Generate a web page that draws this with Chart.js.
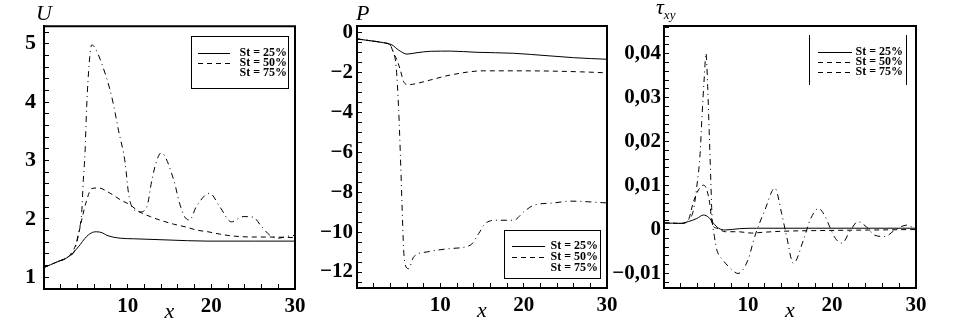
<!DOCTYPE html>
<html>
<head>
<meta charset="utf-8">
<script src="https://cdn.jsdelivr.net/npm/chart.js@4.4.1/dist/chart.umd.min.js"></script>
<style>
  html, body { margin: 0; background: #fff; }
  #wrap { position: relative; width: 953px; height: 323px; }
  #wrap canvas { position: absolute; left: 0; top: 0; }
</style>
</head>
<body>
<div id="wrap">
  <canvas id="chU" width="953" height="323"></canvas>
  <canvas id="chP" width="953" height="323"></canvas>
  <canvas id="chT" width="953" height="323"></canvas>
</div>
<script>
// series labels
const stLabels = ["St = 25%", "St = 50%", "St = 75%"];

// x ticks (shared)
const xTickValues = [10, 20, 30];
const xTickLabels = ["10", "20", "30"];

// ---- U panel ----
const u25x = [0, 1.5, 3.1, 4.1, 5.1, 5.8, 6.3, 7.0, 7.5, 9.1, 10.7, 14.7, 19.6, 25.2, 30];
const u25y = [1.17, 1.26, 1.37, 1.52, 1.70, 1.77, 1.78, 1.76, 1.72, 1.67, 1.66, 1.64, 1.62, 1.62, 1.62];
const u50x = [0, 1.5, 3.1, 3.9, 4.5, 5.1, 5.7, 6.5, 7.9, 9.1, 10.3, 11.3, 12.7, 14.3, 15.5, 17, 18.2, 19.6, 21, 22.4, 25, 27, 30];
const u50y = [1.17, 1.26, 1.38, 1.6, 1.98, 2.32, 2.52, 2.53, 2.44, 2.33, 2.24, 2.13, 2.04, 1.96, 1.91, 1.86, 1.81, 1.78, 1.74, 1.71, 1.69, 1.69, 1.68];
const u75x = [0, 1.5, 3.1, 3.7, 4.1, 4.5, 4.7, 4.9, 5.1, 5.4, 5.7, 6.0, 6.9, 8.1, 8.9, 9.7, 10.1, 10.5, 11.5, 12.3, 12.9, 13.5, 14.0, 15.5, 16.2, 16.8, 17.4, 18.2, 19.8, 21.0, 22.4, 23.8, 25.0, 26.0, 27.0, 28.0, 29.0, 30];
const u75y = [1.17, 1.26, 1.37, 1.47, 1.75, 2.1, 2.67, 3.12, 3.92, 4.66, 4.98, 4.95, 4.66, 4.09, 3.52, 2.96, 2.44, 2.21, 2.12, 2.21, 2.67, 3.01, 3.13, 2.67, 2.27, 2.04, 1.98, 2.21, 2.44, 2.21, 1.95, 2.04, 2.03, 1.87, 1.72, 1.67, 1.70, 1.72];
const uTickValues = [1, 2, 3, 4, 5];
const uTickLabels = ["1", "2", "3", "4", "5"];

// ---- P panel ----
const p25x = [0, 1.6, 3.2, 4.2, 5.0, 6.0, 7.2, 8.8, 11.2, 14.4, 18.8, 22.8, 26, 30];
const p25y = [-0.3, -0.39, -0.49, -0.6, -0.86, -1.06, -0.99, -0.92, -0.91, -0.97, -1.02, -1.14, -1.24, -1.32];
const p50x = [0, 1.6, 3.2, 4.0, 4.4, 4.8, 5.2, 5.6, 6.2, 7.2, 8.8, 11.2, 15.2, 18.8, 22.8, 26.8, 30];
const p50y = [-0.3, -0.39, -0.49, -0.62, -1.02, -1.36, -1.86, -2.45, -2.6, -2.53, -2.36, -2.11, -1.9, -1.9, -1.91, -1.95, -2.0];
const p75x = [0, 1.6, 3.2, 4.0, 4.4, 4.7, 5.0, 5.2, 5.4, 5.6, 5.9, 6.2, 6.8, 8.4, 11.2, 13.6, 14.6, 15.4, 16.8, 18.8, 20, 21.2, 23.6, 25.6, 30];
const p75y = [-0.3, -0.39, -0.49, -0.62, -1.0, -1.69, -3.87, -6.05, -8.56, -10.9, -11.75, -11.83, -11.24, -10.99, -10.82, -10.65, -10.07, -9.56, -9.4, -9.4, -8.98, -8.65, -8.53, -8.44, -8.53];
const pTickValues = [-12, -10, -8, -6, -4, -2, 0];
const pTickLabels = ["\u221212", "\u221210", "\u22128", "\u22126", "\u22124", "\u22122", "0"];

// ---- tau panel ----
const t25x = [0, 2.1, 2.9, 3.9, 4.7, 5.3, 5.9, 6.5, 7.3, 9, 11, 30];
const t25y = [0.0015, 0.0014, 0.0018, 0.0025, 0.0033, 0.0028, 0.0014, 0.0003, -0.0001, 0.0002, 0.0003, 0.0003];
const t50x = [0, 2.1, 2.9, 3.5, 4.1, 4.7, 5.1, 5.5, 5.7, 6.3, 7.3, 8.8, 10.4, 12, 14, 16, 20, 25, 30];
const t50y = [0.0015, 0.0014, 0.0022, 0.0063, 0.009, 0.0101, 0.009, 0.0052, 0.0014, 0.0003, -0.0005, -0.0005, -0.0008, -0.0006, -0.0004, -0.0003, -0.0002, -0.0001, 0];
const t75x = [0, 2.1, 2.9, 3.5, 3.9, 4.3, 4.5, 4.8, 5.0, 5.2, 5.4, 5.6, 5.7, 6.0, 6.3, 7.0, 8.0, 8.8, 10, 10.8, 12, 13.2, 14, 14.6, 15.4, 16.6, 17.4, 18.4, 19.2, 19.8, 20.4, 21.2, 22.1, 23.1, 24.1, 25.1, 26.3, 27.5, 28.9, 30];
const t75y = [0.0015, 0.0014, 0.0022, 0.0044, 0.0097, 0.0173, 0.0249, 0.0348, 0.0401, 0.0325, 0.0211, 0.0097, 0.0037, -0.0016, -0.0047, -0.0069, -0.009, -0.0100, -0.0069, -0.0016, 0.0044, 0.0094, 0.0037, -0.0016, -0.0077, -0.0024, 0.0022, 0.0048, 0.0029, 0.0003, -0.002, -0.0031, -0.0005, 0.0018, 0.0006, -0.0013, -0.0016, -0.0001, 0.001, 0.0];
const tTickValues = [-0.01, 0, 0.01, 0.02, 0.03, 0.04];
const tTickLabels = ["\u22120,01", "0", "0,01", "0,02", "0,03", "0,04"];

const dashes = [[], [5, 4], [6, 4, 1, 4]];
const SERIF = "'Liberation Serif', 'DejaVu Serif', serif";

function pts(xs, ys) {
  return xs.map((x, i) => ({ x: x, y: ys[i] }));
}

function minorTicks(min, max, step) {
  const out = [];
  const n0 = Math.ceil(min / step - 1e-9);
  for (let n = n0; n * step <= max + 1e-9; n++) out.push({ value: +(n * step).toFixed(6) });
  return out;
}

function labelFor(values, labels) {
  return v => {
    const i = values.findIndex(m => Math.abs(m - v) < 1e-7);
    return i < 0 ? "" : labels[i];
  };
}

// border round the plot area (top and right sides)
const framePlugin = {
  id: "frame",
  afterDraw(chart) {
    const a = chart.chartArea, ctx = chart.ctx;
    ctx.save();
    ctx.strokeStyle = "#000";
    ctx.lineWidth = 2;
    ctx.beginPath();
    ctx.moveTo(a.left, a.top);
    ctx.lineTo(a.right, a.top);
    ctx.lineTo(a.right, a.bottom);
    ctx.stroke();
    ctx.restore();
  }
};

// legend box drawn inside the plot
const boxLegend = {
  id: "boxLegend",
  afterDraw(chart, args, o) {
    const ctx = chart.ctx;
    ctx.save();
    ctx.strokeStyle = "#000";
    ctx.lineWidth = 1;
    if (o.sidesOnly) {
      ctx.beginPath();
      ctx.moveTo(o.box[0] + 0.5, o.box[1]); ctx.lineTo(o.box[0] + 0.5, o.box[3]);
      ctx.moveTo(o.box[2] + 0.5, o.box[1]); ctx.lineTo(o.box[2] + 0.5, o.box[3]);
      ctx.stroke();
    } else {
      ctx.strokeRect(o.box[0] + 0.5, o.box[1] + 0.5, o.box[2] - o.box[0], o.box[3] - o.box[1]);
    }
    ctx.font = "bold 12px " + SERIF;
    ctx.fillStyle = "#000";
    ctx.textAlign = "right";
    ctx.textBaseline = "middle";
    chart.data.datasets.forEach((ds, i) => {
      const y = o.rows[i];
      if (o.dash[i]) {
        ctx.setLineDash(o.dash[i]);
        ctx.beginPath();
        ctx.moveTo(o.line[0], y + 0.5);
        ctx.lineTo(o.line[1], y + 0.5);
        ctx.stroke();
        ctx.setLineDash([]);
      }
      ctx.fillText(ds.label, o.textRight, y);
    });
    ctx.restore();
  }
};

// variable name at the top of the y axis
const varTitle = {
  id: "varTitle",
  afterDraw(chart, args, o) {
    const ctx = chart.ctx;
    ctx.save();
    ctx.fillStyle = "#000";
    ctx.textBaseline = "alphabetic";
    ctx.textAlign = "left";
    ctx.font = "italic 22px " + SERIF;
    ctx.fillText(o.text, o.x, o.y);
    if (o.sub) {
      const w = ctx.measureText(o.text).width;
      ctx.font = "italic 13px " + SERIF;
      ctx.fillText(o.sub, o.x + w, o.y + 5);
    }
    ctx.restore();
  }
};

function makePanel(id, p) {
  const YW = p.yw, XH = 34;
  new Chart(document.getElementById(id), {
    type: "line",
    data: {
      datasets: p.series.map((s, i) => ({
        label: stLabels[i],
        data: pts(s[0], s[1]),
        borderColor: "#000",
        borderWidth: 1,
        borderDash: dashes[i],
        pointRadius: 0,
        fill: false,
        cubicInterpolationMode: "monotone"
      }))
    },
    options: {
      responsive: false,
      animation: false,
      events: [],
      layout: {
        padding: { left: p.area[0] - YW, top: p.area[1], right: 953 - p.area[2], bottom: 323 - p.area[3] - XH }
      },
      plugins: {
        legend: { display: false },
        tooltip: { enabled: false },
        boxLegend: p.legend,
        varTitle: p.title
      },
      scales: {
        x: {
          type: "linear",
          min: 0, max: 30,
          afterFit: s => { s.height = XH; },
          afterBuildTicks: s => { s.ticks = minorTicks(0, 30, 2); },
          ticks: {
            autoSkip: false, maxRotation: 0, padding: 10, color: "#000",
            font: { family: SERIF, size: 21, weight: "bold" },
            callback: labelFor(xTickValues, xTickLabels)
          },
          grid: { drawOnChartArea: false, tickLength: -5, color: "#000", tickColor: "#000" },
          border: { color: "#000", width: 2 },
          title: { display: true, text: "x", color: "#000", padding: 0, font: { family: SERIF, size: 22, style: "italic", lineHeight: 1 } }
        },
        y: {
          type: "linear",
          min: p.yMin, max: p.yMax,
          afterFit: s => { s.width = YW; },
          afterBuildTicks: s => { s.ticks = minorTicks(p.yMin, p.yMax, p.yStep); },
          ticks: {
            autoSkip: false, padding: p.yPad, color: "#000",
            font: { family: SERIF, size: p.yFont, weight: "bold" },
            callback: labelFor(p.yTicks, p.yLabels)
          },
          grid: { drawOnChartArea: false, tickLength: -5, color: "#000", tickColor: "#000" },
          border: { color: "#000", width: 2 }
        }
      }
    },
    plugins: [framePlugin, boxLegend, varTitle]
  });
}

makePanel("chU", {
  area: [44, 26, 295, 289], yw: 40,
  series: [[u25x, u25y], [u50x, u50y], [u75x, u75y]],
  yMin: 0.8, yMax: 5.3, yStep: 0.2, yTicks: uTickValues, yLabels: uTickLabels, yPad: 13, yFont: 22,
  legend: { box: [191, 36, 288, 88], rows: [53, 63, 73], line: [198, 230], textRight: 287, dash: [[], [5, 4], null] },
  title: { text: "U", x: 36, y: 20 }
});

makePanel("chP", {
  area: [357, 26, 607, 288], yw: 60,
  series: [[p25x, p25y], [p50x, p50y], [p75x, p75y]],
  yMin: -12.8, yMax: 0.35, yStep: 0.5, yTicks: pTickValues, yLabels: pTickLabels, yPad: 9, yFont: 21,
  legend: { box: [504, 230, 600, 278], rows: [246, 257, 268], line: [512, 545], textRight: 598, dash: [[], [5, 4], null] },
  title: { text: "P", x: 356, y: 20 }
});

makePanel("chT", {
  area: [664, 26, 916, 288], yw: 60,
  series: [[t25x, t25y], [t50x, t50y], [t75x, t75y]],
  yMin: -0.0133, yMax: 0.0463, yStep: 0.002, yTicks: tTickValues, yLabels: tTickLabels, yPad: 8, yFont: 21,
  legend: { box: [809, 35, 906, 85], rows: [52, 62, 72], line: [818, 852], textRight: 903, sidesOnly: true, dash: [[], [5, 4], [5, 4]] },
  title: { text: "\u03c4", sub: "xy", x: 656, y: 14 }
});
</script>
</body>
</html>
